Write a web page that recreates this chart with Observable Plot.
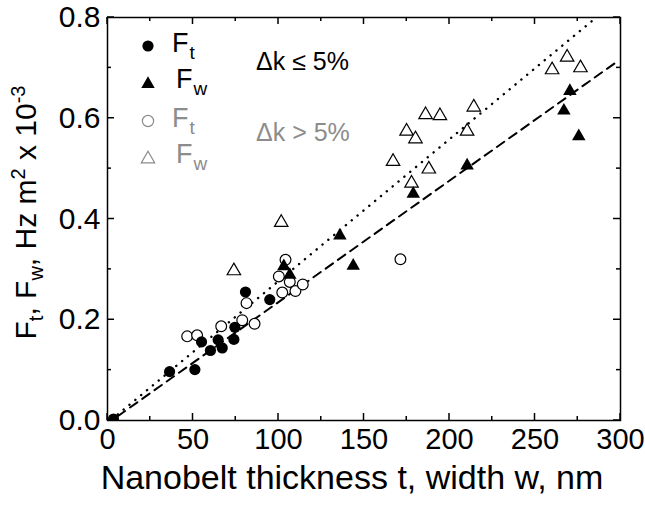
<!DOCTYPE html>
<html>
<head>
<meta charset="utf-8">
<script src="https://cdn.jsdelivr.net/npm/d3@7"></script>
<script src="https://cdn.jsdelivr.net/npm/@observablehq/plot@0.6"></script>
<style>
  html, body { margin: 0; padding: 0; background: #fff; }
  #chart { width: 645px; height: 508px; }
</style>
</head>
<body>
<div id="chart"></div>
<script>
// ---- data (t or w in nm, F in Hz m^2 x 10^-3) ----
const ftSolid = [[3.5,0.003],[36.3,0.097],[51.1,0.101],[55,0.156],[60.2,0.139],[64.7,0.160],[67.1,0.144],[73.9,0.161],[74.5,0.185],[80.7,0.255],[94.9,0.240]];
const fwSolid = [[103.1,0.310],[106.6,0.293],[135.9,0.371],[143.7,0.311],[178.8,0.454],[210.3,0.510],[266.9,0.619],[270.4,0.658],[275.6,0.568]];
const ftOpen = [[46.6,0.167],[52.4,0.169],[66.5,0.187],[78.8,0.199],[81.3,0.233],[86,0.192],[100.2,0.286],[102.2,0.254],[104.1,0.319],[106.6,0.275],[109.9,0.257],[114.2,0.270],[171.3,0.320]];
const fwOpen = [[73.9,0.301],[101.6,0.397],[167,0.518],[177.8,0.475],[187.9,0.503],[174.9,0.578],[180.1,0.563],[186,0.611],[194.4,0.609],[210.3,0.578],[214.2,0.626],[260,0.700],[268.8,0.725],[276.6,0.704]];
const dashedFit = [[6,0.0085],[297,0.710]];
const dottedFit = [[6,0.012],[284,0.795]];
const xTicks = [0,50,100,150,200,250,300];
const xMinor = [25,75,125,175,225,275];
const yTicks = [0,0.2,0.4,0.6,0.8];
const yMinor = [0.1,0.3,0.5,0.7];
const legendRows = [
  {sym: "circle", filled: true, sub: "t"},
  {sym: "triangle", filled: true, sub: "w"},
  {sym: "circle", filled: false, sub: "t"},
  {sym: "triangle", filled: false, sub: "w"}
];
const groupLabels = ["\u0394k \u2264 5%", "\u0394k > 5%"];

const GRAY = "#8c8c8c";
const FONT = "'Liberation Sans', Arial, Helvetica, sans-serif";

const plot = Plot.plot({
  width: 645, height: 508,
  marginLeft: 107, marginRight: 25, marginTop: 17, marginBottom: 88,
  style: {fontFamily: FONT, fontSize: "29px", background: "#fff", color: "#000"},
  x: {domain: [0, 300]},
  y: {domain: [0, 0.8]},
  marks: [
    Plot.axisX({ticks: xTicks, tickSize: 0, tickPadding: 8, label: null, tickFormat: d => String(d), fontSize: 29}),
    Plot.axisY({ticks: yTicks, tickSize: 0, tickPadding: 7, label: null, tickFormat: d3.format(".1f"), fontSize: 30}),
    Plot.line(dashedFit, {x: d => d[0], y: d => d[1], stroke: "#000", strokeWidth: 2, strokeDasharray: "9,6"}),
    Plot.line(dottedFit, {x: d => d[0], y: d => d[1], stroke: "#000", strokeWidth: 2.4, strokeDasharray: "0.1,7.5", strokeLinecap: "round"}),
    Plot.dot(fwOpen, {x: d => d[0], y: d => d[1], symbol: "triangle", r: 5, fill: "#fff", stroke: "#000", strokeWidth: 1.2, dy: 2}),
    Plot.dot(ftOpen, {x: d => d[0], y: d => d[1], symbol: "circle", r: 5.4, fill: "#fff", stroke: "#000", strokeWidth: 1.2}),
    Plot.dot(ftSolid, {x: d => d[0], y: d => d[1], symbol: "circle", r: 5.6, fill: "#000", stroke: "none", clip: true}),
    Plot.dot(fwSolid, {x: d => d[0], y: d => d[1], symbol: "triangle", r: 5, fill: "#000", stroke: "none", dy: 2}),
    Plot.frame({stroke: "#000", strokeWidth: 1.5})
  ]
});
document.getElementById("chart").appendChild(plot);

const sx = plot.scale("x"), sy = plot.scale("y");
const svg = d3.select(plot);
const X0 = sx.apply(0), X1 = sx.apply(300), Y0 = sy.apply(0), Y1 = sy.apply(0.8);

// inward ticks on all four sides
const tk = svg.append("g").attr("stroke", "#000").attr("stroke-width", 1.5);
function xt(v, len) {
  const x = sx.apply(v);
  tk.append("line").attr("x1", x).attr("x2", x).attr("y1", Y0).attr("y2", Y0 - len);
  tk.append("line").attr("x1", x).attr("x2", x).attr("y1", Y1).attr("y2", Y1 + len);
}
function yt(v, len) {
  const y = sy.apply(v);
  tk.append("line").attr("y1", y).attr("y2", y).attr("x1", X0).attr("x2", X0 + len);
  tk.append("line").attr("y1", y).attr("y2", y).attr("x1", X1).attr("x2", X1 - len);
}
xTicks.forEach(v => xt(v, 7)); xMinor.forEach(v => xt(v, 4));
yTicks.forEach(v => yt(v, 7)); yMinor.forEach(v => yt(v, 4));

// axis titles
svg.append("text")
  .attr("x", 352).attr("y", 489)
  .attr("text-anchor", "middle")
  .attr("font-family", FONT).attr("font-size", 34).attr("fill", "#000")
  .text("Nanobelt thickness t, width w, nm");

const yl = svg.append("text")
  .attr("transform", `translate(36,${(Y0 + Y1) / 2 - 6}) rotate(-90)`)
  .attr("text-anchor", "middle")
  .attr("font-family", FONT).attr("font-size", 30).attr("fill", "#000");
yl.append("tspan").text("F");
yl.append("tspan").attr("font-size", 20).attr("dy", 7).text("t");
yl.append("tspan").attr("dy", -7).text(", F");
yl.append("tspan").attr("font-size", 20).attr("dy", 7).text("w");
yl.append("tspan").attr("dy", -7).text(", Hz m");
yl.append("tspan").attr("font-size", 20).attr("dy", -11).text("2");
yl.append("tspan").attr("dy", 11).text(" x 10");
yl.append("tspan").attr("font-size", 20).attr("dy", -11).text("-3");

// legend
const lg = svg.append("g");
const rowY = [46, 82, 121, 157];
legendRows.forEach((r, i) => {
  const color = r.filled ? "#000" : GRAY;
  const sz = r.sym === "circle" ? Math.PI * 5.6 * 5.6 : Math.PI * 25;
  lg.append("path")
    .attr("d", d3.symbol(r.sym === "circle" ? d3.symbolCircle : d3.symbolTriangle, sz)())
    .attr("transform", `translate(148,${rowY[i] + (r.sym === "triangle" ? 2 : 0)})`)
    .attr("fill", r.filled ? "#000" : "none")
    .attr("stroke", r.filled ? "none" : GRAY)
    .attr("stroke-width", 1.2);
  const t = lg.append("text")
    .attr("x", r.sym === "circle" ? 172 : 176).attr("y", rowY[i] + 6)
    .attr("text-anchor", "start")
    .attr("font-family", FONT).attr("font-size", 27).attr("fill", color);
  t.append("tspan").text("F");
  t.append("tspan").attr("font-size", 19).attr("dy", 7).attr("dx", 1).text(r.sub);
});
svg.append("text").attr("x", 256).attr("y", 70).attr("text-anchor", "start")
  .attr("font-family", FONT).attr("font-size", 25).attr("fill", "#000").text(groupLabels[0]);
svg.append("text").attr("x", 256).attr("y", 141).attr("text-anchor", "start")
  .attr("font-family", FONT).attr("font-size", 25).attr("fill", GRAY).text(groupLabels[1]);
</script>
</body>
</html>
